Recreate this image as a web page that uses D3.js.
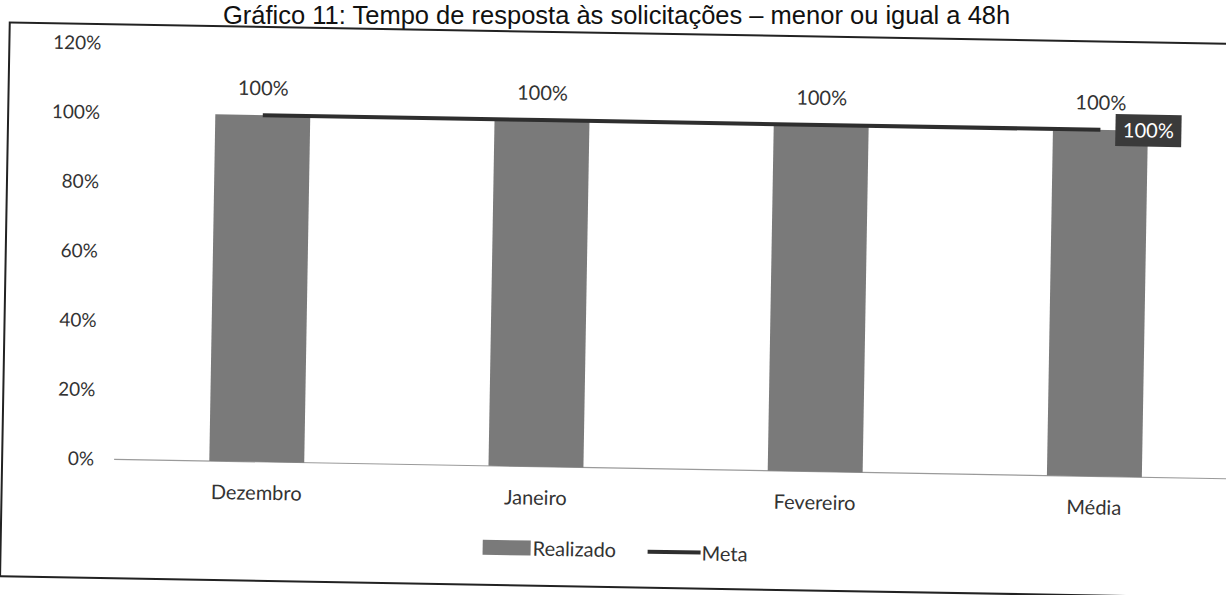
<!DOCTYPE html>
<html>
<head>
<meta charset="utf-8">
<script src="https://cdn.jsdelivr.net/npm/d3@7"></script>
<style>
  body { margin: 0; background: #fff; }
  svg text { font-family: Lato, "Open Sans", sans-serif; fill: #333; }
</style>
</head>
<body>
<div class="chart"></div>
<script>
// chart values
var categories = ["Dezembro", "Janeiro", "Fevereiro", "Média"];
var realizado = [1, 1, 1, 1];
var meta = [1, 1, 1, 1];
var yTicks = [0, 0.2, 0.4, 0.6, 0.8, 1.0, 1.2];
var title = "Gráfico 11: Tempo de resposta às solicitações – menor ou igual a 48h";

var width = 1226, height = 595;
var pct = d3.format(".0%");

var svg = d3.select(".chart").append("svg")
            .attr("width", width)
            .attr("height", height);

// title, kept level so it stays inside the page
svg.append("text")
    .attr("x", 223).attr("y", 24)
    .style("font-family", "'Liberation Sans', Arial, sans-serif")
    .style("font-size", "25.5px")
    .style("fill", "#111")
    .text(title);

// the scan is a bit crooked, so tilt the chart
var g = svg.append("g").attr("transform", "rotate(1, 613, 300)");

// frame
g.append("rect")
    .attr("x", 5).attr("y", 33)
    .attr("width", 1240).attr("height", 554)
    .attr("fill", "none")
    .attr("stroke", "#222")
    .attr("stroke-width", 2);

var x = d3.scaleBand()
          .domain(categories)
          .range([120, 1237])
          .paddingInner(0.66)
          .paddingOuter(0.33);

var y = d3.scaleLinear()
          .domain([0, 1.2])
          .range([468, 52]);

// y axis
var yAxis = g.append("g")
    .attr("transform", "translate(97,0)")
    .call(d3.axisLeft(y).tickValues(yTicks).tickFormat(pct).tickSize(0).tickPadding(0));
yAxis.select(".domain").remove();
yAxis.selectAll("text")
    .style("font-family", "Lato, sans-serif")
    .style("font-size", "19px")
    .attr("fill", "#333");

// baseline
g.append("line")
    .attr("x1", 117).attr("x2", 1240)
    .attr("y1", y(0)).attr("y2", y(0))
    .attr("stroke", "#9a9a9a")
    .attr("stroke-width", 1.2);

// bars
g.selectAll(".bar")
    .data(realizado)
    .enter().append("rect")
    .attr("class", "bar")
    .attr("x", function(d, i) { return x(categories[i]); })
    .attr("y", function(d) { return y(d); })
    .attr("width", x.bandwidth())
    .attr("height", function(d) { return y(0) - y(d); })
    .attr("fill", "#7a7a7a");

// bar labels
g.selectAll(".barLabel")
    .data(realizado)
    .enter().append("text")
    .attr("class", "barLabel")
    .attr("x", function(d, i) { return x(categories[i]) + x.bandwidth() / 2; })
    .attr("y", function(d) { return y(d) - 20; })
    .attr("text-anchor", "middle")
    .style("font-size", "20px")
    .text(function(d) { return pct(d); });

// meta line
var line = d3.line()
    .x(function(d, i) { return x(categories[i]) + x.bandwidth() / 2; })
    .y(function(d) { return y(d); });

g.append("path")
    .datum(meta)
    .attr("d", line)
    .attr("fill", "none")
    .attr("stroke", "#2e2e2e")
    .attr("stroke-width", 4);

// meta label, last point only
var last = meta.length - 1;
var lx = x(categories[last]) + x.bandwidth() / 2 + 15;
g.append("rect")
    .attr("x", lx).attr("y", y(meta[last]) - 16)
    .attr("width", 66).attr("height", 32)
    .attr("fill", "#3a3a3a");
g.append("text")
    .attr("x", lx + 33).attr("y", y(meta[last]) + 7)
    .attr("text-anchor", "middle")
    .style("font-size", "20px")
    .style("fill", "#fff")
    .text(pct(meta[last]));

// x labels
g.selectAll(".catLabel")
    .data(categories)
    .enter().append("text")
    .attr("class", "catLabel")
    .attr("x", function(d) { return x(d) + x.bandwidth() / 2; })
    .attr("y", y(0) + 38)
    .attr("text-anchor", "middle")
    .style("font-size", "20px")
    .text(function(d) { return d; });

// legend
var legend = g.append("g").attr("transform", "translate(487,550)");
legend.append("rect")
    .attr("x", 0).attr("y", -8)
    .attr("width", 48).attr("height", 15)
    .attr("fill", "#7a7a7a");
legend.append("text")
    .attr("x", 50).attr("y", 7)
    .style("font-size", "20px")
    .text("Realizado");
legend.append("line")
    .attr("x1", 165).attr("x2", 218)
    .attr("y1", 1).attr("y2", 1)
    .attr("stroke", "#2e2e2e")
    .attr("stroke-width", 4);
legend.append("text")
    .attr("x", 219).attr("y", 9)
    .style("font-size", "20px")
    .text("Meta");
</script>
</body>
</html>
